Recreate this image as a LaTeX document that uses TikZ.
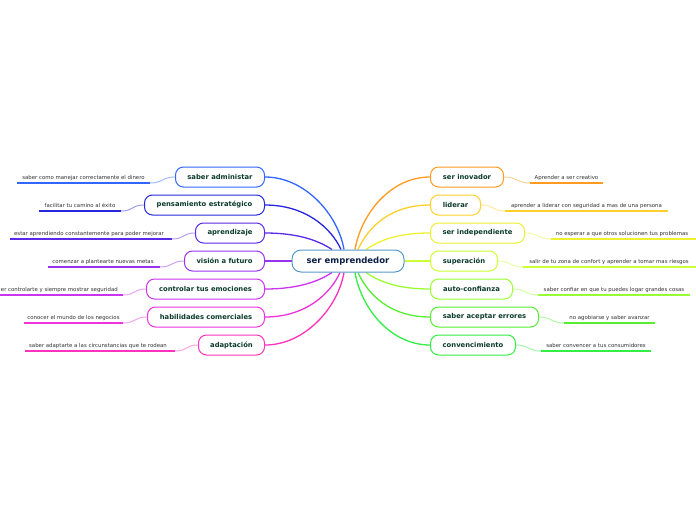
\documentclass[tikz,border=0pt]{standalone}
\usepackage{fontspec}
\setmainfont{DejaVu Sans}
\usetikzlibrary{calc}
\pgfdeclarelayer{background}
\pgfsetlayers{background,main}
\definecolor{cA}{HTML}{3366FF}
\definecolor{cB}{HTML}{2626DE}
\definecolor{cC}{HTML}{5A2AE8}
\definecolor{cD}{HTML}{9933EE}
\definecolor{cE}{HTML}{CC33EE}
\definecolor{cF}{HTML}{EE33DD}
\definecolor{cG}{HTML}{FF33BB}
\definecolor{rA}{HTML}{FF9A22}
\definecolor{rB}{HTML}{FFD02A}
\definecolor{rC}{HTML}{EEF030}
\definecolor{rD}{HTML}{CCFF33}
\definecolor{rE}{HTML}{99FF33}
\definecolor{rF}{HTML}{55EE33}
\definecolor{rG}{HTML}{33EE44}
\definecolor{btext}{HTML}{0B3B2A}
\definecolor{ctext}{HTML}{0A1F44}
\definecolor{cborder}{HTML}{5599CC}
\begin{document}
\begin{tikzpicture}[x=1pt,y=-1pt,
  branch/.style={draw=#1, line width=1pt, rounded corners=8pt, minimum height=20pt,
    inner sep=0pt, font=\fontsize{6.8}{7}\selectfont\bfseries, text=btext, fill=white},
  lbranch/.style={branch=#1, anchor=east},
  rbranch/.style={branch=#1, anchor=west},
  leaftext/.style={anchor=base, inner sep=0pt, font=\fontsize{5.4}{6}\selectfont, text=black!80},
  uline/.style={draw=#1, line width=1.3pt},
  twig/.style={draw=#1!45, line width=1pt},
  limb/.style={draw=#1, line width=1.3pt}]
\useasboundingbox (0,0) rectangle (696,520);
\begin{pgfonlayer}{background}
\fill[white] (0,0) rectangle (696,520);
\end{pgfonlayer}

% center
\node[draw=cborder, line width=1pt, rounded corners=9pt, minimum width=112pt, minimum height=22pt,
  inner sep=0pt, font=\fontsize{8.5}{10}\selectfont\bfseries, text=ctext, fill=white] (c) at (348,261) {ser emprendedor};

% left branches
\node[lbranch=cA, minimum width=89pt] (l1) at (265,177) {saber administar};
\node[lbranch=cB, minimum width=120pt] (l2) at (265,205) {pensamiento estratégico};
\node[lbranch=cC, minimum width=69pt] (l3) at (265,233) {aprendizaje};
\node[lbranch=cD, minimum width=80pt] (l4) at (265,261) {visión a futuro};
\node[lbranch=cE, minimum width=118pt] (l5) at (265,289) {controlar tus emociones};
\node[lbranch=cF, minimum width=117pt] (l6) at (265,317) {habilidades comerciales};
\node[lbranch=cG, minimum width=66pt] (l7) at (265,345) {adaptación};

% right branches
\node[rbranch=rA, minimum width=73pt] (r1) at (430,177) {ser inovador};
\node[rbranch=rB, minimum width=50pt] (r2) at (430,205) {liderar};
\node[rbranch=rC, minimum width=94pt] (r3) at (430,233) {ser independiente};
\node[rbranch=rD, minimum width=67pt] (r4) at (430,261) {superación};
\node[rbranch=rE, minimum width=82pt] (r5) at (430,289) {auto-confianza};
\node[rbranch=rF, minimum width=108pt] (r6) at (430,317) {saber aceptar errores};
\node[rbranch=rG, minimum width=85pt] (r7) at (430,345) {convencimiento};

% center anchor points
\coordinate (e1) at ($(c.north)+(-4,0)$);
\coordinate (e2) at ($(c.north)+(-7,0)$);
\coordinate (e3) at ($(c.north)+(-16,0)$);
\coordinate (e5) at ($(c.south)+(-16,0)$);
\coordinate (e6) at ($(c.south)+(-8,0)$);
\coordinate (e7) at ($(c.south)+(-4,0)$);
\coordinate (f1) at ($(c.north)+(7,0)$);
\coordinate (f2) at ($(c.north)+(10,0)$);
\coordinate (f3) at ($(c.north)+(18,0)$);
\coordinate (f5) at ($(c.south)+(18,0)$);
\coordinate (f6) at ($(c.south)+(10,0)$);
\coordinate (f7) at ($(c.south)+(7,0)$);

\begin{pgfonlayer}{background}
\draw[limb=cA] (l1.east) .. controls +(40,0) and +(-6,-35) .. (e1);
\draw[limb=cB] (l2.east) .. controls +(40,0) and +(-10,-22) .. (e2);
\draw[limb=cC] (l3.east) .. controls +(35,0) and +(-12,-8) .. (e3);
\draw[limb=cD] (l4.east) -- (c.west);
\draw[limb=cE] (l5.east) .. controls +(35,0) and +(-12,8) .. (e5);
\draw[limb=cF] (l6.east) .. controls +(40,0) and +(-10,22) .. (e6);
\draw[limb=cG] (l7.east) .. controls +(40,0) and +(-6,35) .. (e7);
\draw[limb=rA] (r1.west) .. controls +(-40,0) and +(6,-35) .. (f1);
\draw[limb=rB] (r2.west) .. controls +(-40,0) and +(10,-22) .. (f2);
\draw[limb=rC] (r3.west) .. controls +(-35,0) and +(12,-8) .. (f3);
\draw[limb=rD] (r4.west) -- (c.east);
\draw[limb=rE] (r5.west) .. controls +(-35,0) and +(12,8) .. (f5);
\draw[limb=rF] (r6.west) .. controls +(-40,0) and +(10,22) .. (f6);
\draw[limb=rG] (r7.west) .. controls +(-40,0) and +(6,35) .. (f7);
\end{pgfonlayer}

% left leaves
\coordinate (la1) at (17,183);  \coordinate (lb1) at (150,183);
\coordinate (la2) at (39,211);  \coordinate (lb2) at (121,211);
\coordinate (la3) at (10,239);  \coordinate (lb3) at (172,239);
\coordinate (la4) at (48,267);  \coordinate (lb4) at (160,267);
\coordinate (la5) at (0,295);   \coordinate (lb5) at (123,295);
\coordinate (la6) at (24,323);  \coordinate (lb6) at (123,323);
\coordinate (la7) at (25,351);  \coordinate (lb7) at (175,351);
\foreach \i/\col in {1/cA,2/cB,3/cC,4/cD,5/cE,6/cF,7/cG}{
  \draw[uline=\col] (la\i) -- (lb\i);
  \draw[twig=\col] (l\i.west) .. controls +(-13,0) and +(13,0) .. (lb\i);
}
\node[leaftext] (t1) at (83.5,179.5) {saber como manejar correctamente el dinero};
\node[leaftext] (t2) at (80,207.5) {facilitar tu camino al éxito};
\node[leaftext] (t3) at (89,235.5) {estar aprendiendo constantemente para poder mejorar};
\node[leaftext] (t4) at (103,263.5) {comenzar a plantearte nuevas metas};
\node[leaftext, anchor=base east] (t5) at (118,291.5) {er controlarte y siempre mostrar seguridad};
\node[leaftext] (t6) at (73.5,319.5) {conocer el mundo de los negocios};
\node[leaftext] (t7) at (98,347.5) {saber adaptarte a las circunstancias que te rodean};

% right leaves
\coordinate (ra1) at (530,183);  \coordinate (rb1) at (603,183);
\coordinate (ra2) at (505,211);  \coordinate (rb2) at (668,211);
\coordinate (ra3) at (551,239);  \coordinate (rb3) at (696,239);
\coordinate (ra4) at (523,267);  \coordinate (rb4) at (696,267);
\coordinate (ra5) at (538,295);  \coordinate (rb5) at (690,295);
\coordinate (ra6) at (564,323);  \coordinate (rb6) at (655,323);
\coordinate (ra7) at (541,351);  \coordinate (rb7) at (651,351);
\foreach \i/\col in {1/rA,2/rB,3/rC,4/rD,5/rE,6/rF,7/rG}{
  \draw[uline=\col] (ra\i) -- (rb\i);
  \draw[twig=\col] (r\i.east) .. controls +(13,0) and +(-13,0) .. (ra\i);
}
\node[leaftext] (s1) at (566.5,179.5) {Aprender a ser creativo};
\node[leaftext] (s2) at (586.5,207.5) {aprender a liderar con seguridad a mas de una persona};
\node[leaftext] (s3) at (622,235.5) {no esperar a que otros solucionen tus problemas};
\node[leaftext] (s4) at (609,263.5) {salir de tu zona de confort y aprender a tomar mas riesgos};
\node[leaftext] (s5) at (614,291.5) {saber confiar en que tu puedes logar grandes cosas};
\node[leaftext] (s6) at (609.5,319.5) {no agobiarse y saber avanzar};
\node[leaftext] (s7) at (596,347.5) {saber convencer a tus consumidores};
\end{tikzpicture}
\end{document}
